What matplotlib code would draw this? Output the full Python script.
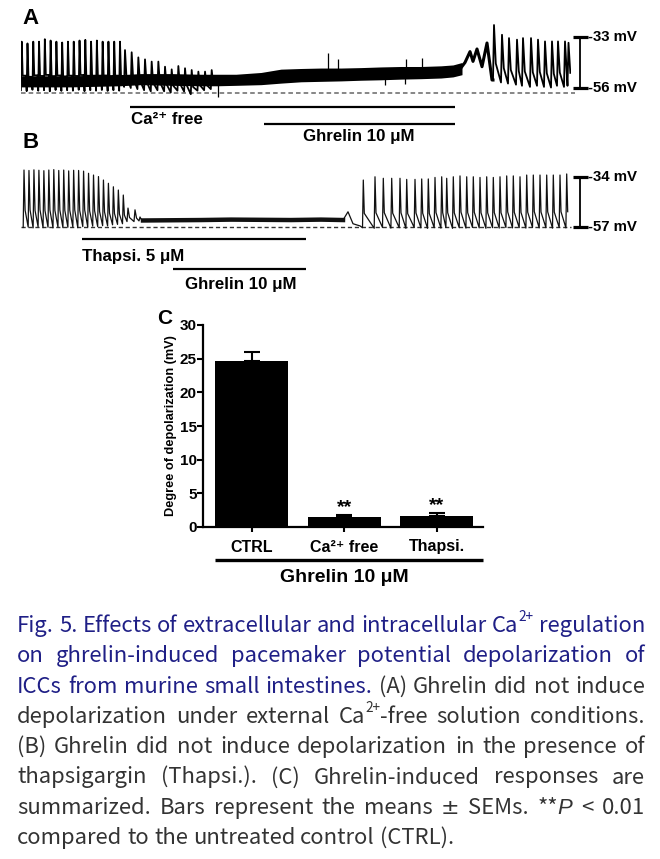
import re
import numpy as np
import matplotlib
matplotlib.use("Agg")
import matplotlib.pyplot as plt
from matplotlib.transforms import blended_transform_factory

W, H = 660, 859

# ---------------- data ----------------
# trace A: time in s from start of record, membrane potential in mV
a_fast_t = (0.7, 99.0)
a_fast_peak = [-35.1, -35.9, -35.1, -35.1, -34.0, -34.6, -35.1, -35.5, -35.1,
               -35.1, -34.6, -34.3, -35.1, -34.6, -35.1, -35.1, -35.1, -35.1]
a_fast_trough = [-57.0, -57.4, -56.8, -57.2, -57.0, -57.5, -56.9, -57.3, -57.0,
                 -57.2, -56.8, -57.4, -57.0, -57.2, -56.9, -57.3, -57.0, -57.2]
a_ca_t = (104.0, 190.7)
a_ca_peak = [-38.9, -39.9, -42.2, -43.1, -44.1, -44.1, -46.4, -47.6, -46.1,
             -47.1, -47.9, -48.6, -48.6, -47.9]
a_ca_trough = [-55.5, -56.0, -56.5, -57.0, -57.5, -57.0, -57.5, -58.0, -57.2,
               -57.6, -58.8, -57.2, -57.0, -56.5]
# noisy band (upper / lower envelope)
a_band_t = [0, 50, 99, 120, 150, 180, 196, 215, 240, 260, 280, 300, 320, 340, 360,
            380, 400, 420, 432, 441]
a_band_hi = [-50.5, -50.5, -50.0, -49.5, -49.5, -49.8, -49.8, -49.8, -49.0, -47.5,
             -47.2, -47.0, -47.0, -46.8, -46.5, -46.3, -46.3, -46.0, -45.6, -44.5]
a_band_lo = [-55.5, -55.5, -55.0, -54.5, -54.8, -55.0, -55.0, -54.8, -54.5, -53.8,
             -53.2, -53.0, -52.8, -52.5, -52.3, -52.0, -51.8, -51.5, -51.0, -50.0]
a_noise_t = [197, 307, 317, 364, 385, 384, 401]
a_noise_mv = [-60.0, -40.3, -43.0, -54.6, -43.0, -54.0, -42.5]
a_ramp_t = [439, 444, 449, 452, 456, 461, 466, 471]
a_ramp_mv = [-47.5, -44.5, -39.6, -44.0, -38.4, -46.4, -35.7, -52.4]
a_rec_t = [473.0, 481.0, 488.0, 496.0, 502.0, 510.0, 517.0, 524.0, 531.0, 537.0,
           544.0, 547.5]
a_rec_peak = [-27.6, -32.0, -33.5, -34.2, -33.5, -33.5, -34.2, -35.0, -35.0,
              -35.0, -35.0, -35.6]
a_rec_trough = [-52.4, -53.5, -54.0, -54.5, -55.0, -55.5, -55.0, -55.5, -55.8,
                -55.0, -55.5, -55.0]
a_rest = -58.2
a_scale = (-33, -56)

# trace B
b_fast_t = (3.0, 102.3)
b_fast_peak = [-30.8, -31.0, -30.7, -30.9, -31.1, -30.8, -30.6, -31.0, -30.8,
               -31.2, -30.9, -31.0, -31.3, -32.3, -33.1, -33.8, -35.4, -36.9,
               -38.5, -40.0, -42.3]
b_fast_trough = [-57.2, -57.0, -57.4, -56.9, -57.3, -57.1, -57.4, -57.0, -57.3,
                 -57.1, -57.0, -57.3, -56.8, -57.0, -56.6, -56.8, -56.4, -56.5,
                 -56.0, -55.8, -55.5]
b_small_t = [107, 114, 119]
b_small_peak = [-48.3, -49.1, -52.4]
b_small_trough = [-54.5, -54.5, -54.2]
b_band_t = [122, 150, 180, 210, 240, 270, 300, 322]
b_band_mv = [-54.0, -53.9, -53.8, -53.6, -53.7, -53.8, -53.6, -53.8]
b_ramp_t = [322, 327, 332, 339]
b_ramp_mv = [-53.8, -50.0, -55.5, -56.5]
b_spike_t = [342.3, 354.0, 362.3, 370.7, 379.0, 385.7, 394.0, 400.7, 407.3, 414.0,
             420.7, 425.7, 432.3, 439.0, 445.7, 452.3, 459.0, 465.7, 472.3, 479.0,
             485.7, 492.3, 499.0, 505.7, 512.3, 519.0, 525.7, 532.3, 539.0, 545.7]
b_spike_peak = [-35.4, -33.9, -34.6, -34.6, -34.6, -35.1, -35.1, -34.9, -34.9,
                -34.2, -33.9, -34.6, -33.9, -33.5, -33.9, -33.9, -34.2, -33.9,
                -34.2, -33.9, -33.5, -33.5, -33.9, -33.1, -33.1, -33.1, -33.1,
                -33.1, -33.1, -32.6]
b_spike_trough = [-57.3, -57.6, -57.2, -57.5, -57.3, -57.6, -57.2, -57.4, -57.6,
                  -57.3, -57.5, -57.2, -57.6, -57.3, -57.5, -57.2, -57.4, -57.6,
                  -57.3, -57.5, -57.2, -57.4, -57.3, -57.5, -57.2, -57.4, -57.3,
                  -57.5, -57.2, -57.4]
b_rest = -57.0
b_scale = (-34, -57)

# drug applications (s)
a_ca_free = (109, 434)
a_ghrelin = (243, 434)
b_thapsi = (61, 285)
b_ghrelin = (152, 285)

# panel C
groups = ["CTRL", "Ca²⁺ free", "Thapsi."]
depol_mean = [24.6, 1.5, 1.6]
depol_sem = [1.4, 0.35, 0.55]
signif = ["", "**", "**"]

caption = [
    "Fig. 5. Effects of extracellular and intracellular Ca$^{2+}$ regulation",
    "on ghrelin-induced pacemaker potential depolarization of",
    "ICCs from murine small intestines. (A) Ghrelin did not induce",
    "depolarization under external Ca$^{2+}$-free solution conditions.",
    "(B) Ghrelin did not induce depolarization in the presence of",
    "thapsigargin (Thapsi.). (C) Ghrelin-induced responses are",
    "summarized. Bars represent the means ± SEMs. **$P$ < 0.01",
    "compared to the untreated control (CTRL).",
]
blue_words = [9, 6, 5, 0, 0, 0, 0, 0]

# ---------------- style ----------------
plt.rcParams["font.family"] = ["Liberation Sans", "DejaVu Sans"]

fig = plt.figure(figsize=(W / 100, H / 100), dpi=100)


def box(x0, y0, x1, y1):
    return [x0 / W, 1 - y1 / H, (x1 - x0) / W, (y1 - y0) / H]


def fy(y):
    return 1 - y / H


def cycles(tp, peaks, troughs, up, mid, hold=None):
    # fast upstroke, quick fall to a plateau, then back down to the next trough
    t, v = [], []
    for i in range(len(tp)):
        plateau = troughs[i] + 0.3 * (peaks[i] - troughs[i])
        t += [tp[i] - up, tp[i], tp[i] + mid]
        v += [troughs[i], peaks[i], plateau]
        if hold is not None:
            t.append(tp[i] + hold)
            v.append(plateau)
    return t, v


def trace_axes(y0, y1, cal_top, cal_bot, mv_top, mv_bot):
    ax = fig.add_axes(box(21, y0, 571, y1))
    k = (cal_bot - cal_top) / (mv_top - mv_bot)
    ax.set_xlim(0, 550)
    ax.set_ylim(mv_bot - (y1 - cal_bot) / k, mv_top + (cal_top - y0) / k)
    ax.axis("off")
    return ax


def scale_bar(ax, top, bot):
    kw = dict(color="black", clip_on=False, solid_capstyle="butt")
    ax.plot([559, 559], [top, bot], lw=1.3, **kw)
    ax.plot([552, 567], [top, top], lw=2.3, **kw)
    ax.plot([552, 567], [bot, bot], lw=2.3, **kw)
    for v in (top, bot):
        ax.text(567.5, v, f"-{abs(v)} mV", fontsize=10.8, fontweight="bold",
                ha="left", va="center")


def drug_bar(ax, span, y, label, x_label, y_label):
    tr = blended_transform_factory(ax.transData, fig.transFigure)
    ax.plot(span, [fy(y), fy(y)], color="black", lw=1.6, transform=tr,
            clip_on=False, solid_capstyle="butt")
    ax.text(x_label, fy(y_label), label, transform=tr, fontsize=12.2,
            fontweight="bold", ha="left", va="center")


# ---------------- trace A ----------------
ax_a = trace_axes(20, 100, 37, 88, a_scale[0], a_scale[1])
t1, v1 = cycles(np.linspace(*a_fast_t, len(a_fast_peak)), a_fast_peak, a_fast_trough,
                0.8, 1.0, hold=4.0)
t2, v2 = cycles(np.linspace(*a_ca_t, len(a_ca_peak)), a_ca_peak, a_ca_trough, 0.9, 1.4)
t3, v3 = cycles(a_rec_t, a_rec_peak, a_rec_trough, 1.0, 1.8)
ax_a.plot([0, 554], [a_rest, a_rest], color="#666666", lw=1.1, ls=(0, (3, 2)), clip_on=False)
ax_a.fill_between(a_band_t, a_band_lo, a_band_hi, color="black", lw=0)
ax_a.plot(t1 + t2, v1 + v2, color="black", lw=1.3)
ax_a.plot(a_ramp_t + t3[:1], a_ramp_mv + v3[:1], color="black", lw=2.2,
          solid_joinstyle="round")
ax_a.plot(t3, v3, color="black", lw=1.3)
band_mid = np.interp(a_noise_t, a_band_t, (np.array(a_band_hi) + a_band_lo) / 2)
ax_a.vlines(a_noise_t, band_mid, a_noise_mv, color="black", lw=0.9)
scale_bar(ax_a, *a_scale)
drug_bar(ax_a, a_ca_free, 107, "Ca²⁺ free", 110, 120)
drug_bar(ax_a, a_ghrelin, 124, "Ghrelin 10 μM", 282, 137)

# ---------------- trace B ----------------
ax_b = trace_axes(150, 240, 177, 227, b_scale[0], b_scale[1])
t1, v1 = cycles(np.linspace(*b_fast_t, len(b_fast_peak)), b_fast_peak, b_fast_trough, 0.8, 1.1)
t2, v2 = cycles(b_small_t, b_small_peak, b_small_trough, 1.0, 1.5)
t3, v3 = cycles(b_spike_t, b_spike_peak, b_spike_trough, 0.8, 1.0)
tb = t1 + t2 + b_band_t + b_ramp_t + t3
vb = v1 + v2 + b_band_mv + b_ramp_mv + v3
ax_b.plot([0, 550], [b_rest, b_rest], color="#333333", lw=1.0, ls=(0, (3, 2)), clip_on=False)
ax_b.plot(b_band_t, b_band_mv, color="#111111", lw=3.2)
ax_b.plot(tb, vb, color="#111111", lw=0.9)
scale_bar(ax_b, *b_scale)
drug_bar(ax_b, b_thapsi, 239, "Thapsi. 5 μM", 61, 257)
drug_bar(ax_b, b_ghrelin, 269, "Ghrelin 10 μM", 164, 285)

fig.text(22 / W, fy(19), "A", fontsize=16, fontweight="bold", ha="left", va="center")
fig.text(22 / W, fy(143), "B", fontsize=16, fontweight="bold", ha="left", va="center")

# ---------------- panel C ----------------
ax_c = fig.add_axes(box(203, 325, 483, 527))
x = np.arange(len(groups))
ax_c.bar(x, depol_mean, width=0.79, color="black")
ax_c.errorbar(x, depol_mean, yerr=[np.zeros(len(x)), depol_sem], fmt="none",
              ecolor="black", elinewidth=1.5, capsize=5.5, capthick=1.5)
for i, s in enumerate(signif):
    if s:
        ax_c.text(i, depol_mean[i] + depol_sem[i] + 0.4, s, fontsize=14, fontweight="bold",
                  ha="center", va="baseline")
ax_c.set_xlim(-0.524, 2.5)
ax_c.set_ylim(0, 30)
ax_c.set_yticks(range(0, 31, 5))
ax_c.set_xticks(x)
ax_c.set_xticklabels(groups, fontsize=11.5, fontweight="bold")
for lab in ax_c.get_yticklabels():
    lab.set_fontweight("bold")
ax_c.tick_params(axis="y", labelsize=11, length=4, width=1.5, pad=0.5)
ax_c.tick_params(axis="x", length=3.5, width=1.5, pad=5.5)
for s in ("top", "right"):
    ax_c.spines[s].set_visible(False)
for s in ("left", "bottom"):
    ax_c.spines[s].set_linewidth(1.6)
ax_c.set_ylabel("Degree of depolarization (mV)", fontsize=9.2, fontweight="bold", labelpad=2)
trc = blended_transform_factory(ax_c.transData, fig.transFigure)
ax_c.plot([-0.395, 2.5], [fy(560), fy(560)], color="black", lw=2.4, transform=trc,
          clip_on=False, solid_capstyle="butt")
ax_c.text(1.0, fy(577), "Ghrelin 10 μM", transform=trc, fontsize=14, fontweight="bold",
          ha="center", va="center")
fig.text(157 / W, fy(318), "C", fontsize=15, fontweight="bold", ha="left", va="center")

# ---------------- caption (justified) ----------------
cap_font = ["Noto Sans CJK KR", "DejaVu Sans"]
blue, grey = "#1f1f86", "#333333"
left, right = 17, 645
r = fig.canvas.get_renderer()


def make_word(word, size, color):
    # split a word into plain / superscript / italic pieces
    pieces = []
    for p in re.split(r"(\$[^$]*\$)", word):
        if not p:
            continue
        if p.startswith("$^{"):
            pieces.append(fig.text(0, 0, p[3:-2], fontsize=size * 0.62, family=cap_font,
                                   color=color, va="baseline"))
            pieces[-1].rise = size * 0.5
        elif p.startswith("$"):
            pieces.append(fig.text(0, 0, p[1:-1], fontsize=size, family="Liberation Sans",
                                   style="italic", color=color, va="baseline"))
            pieces[-1].rise = 0
        else:
            fam = "DejaVu Sans" if p == "±" else cap_font
            pieces.append(fig.text(0, 0, p, fontsize=size, family=fam, color=color,
                                   va="baseline"))
            pieces[-1].rise = 0
    widths = [t.get_window_extent(r).width for t in pieces]
    return pieces, widths


def place_word(pieces, widths, x0, y0):
    xx = x0
    for t, w in zip(pieces, widths):
        t.set_position((xx / W, fy(y0 - t.rise * 100 / 72)))
        xx += w
    return xx


def line_width(ln, size):
    total = 0
    for w in ln.split():
        ps, ws = make_word(w, size, "k")
        total += sum(ws)
        for p in ps:
            p.remove()
    return total


probe = [fig.text(0, 0, s, fontsize=10, family=cap_font) for s in ("a a", "aa")]
space = probe[0].get_window_extent(r).width - probe[1].get_window_extent(r).width
for p in probe:
    p.remove()
need = max(line_width(ln, 10) + space * (len(ln.split()) - 1) for ln in caption)
cap_size = 10 * (right - left) / need

for i, ln in enumerate(caption):
    words = ln.split()
    built = [make_word(w, cap_size, blue if j < blue_words[i] else grey)
             for j, w in enumerate(words)]
    used = sum(sum(ws) for _, ws in built)
    if i < len(caption) - 1:
        gap = (right - left - used) / (len(words) - 1)
    else:
        gap = space * cap_size / 10
    xx = left
    for ps, ws in built:
        xx = place_word(ps, ws, xx, 632 + 30.3 * i) + gap

fig.savefig("out.png", dpi=100)
